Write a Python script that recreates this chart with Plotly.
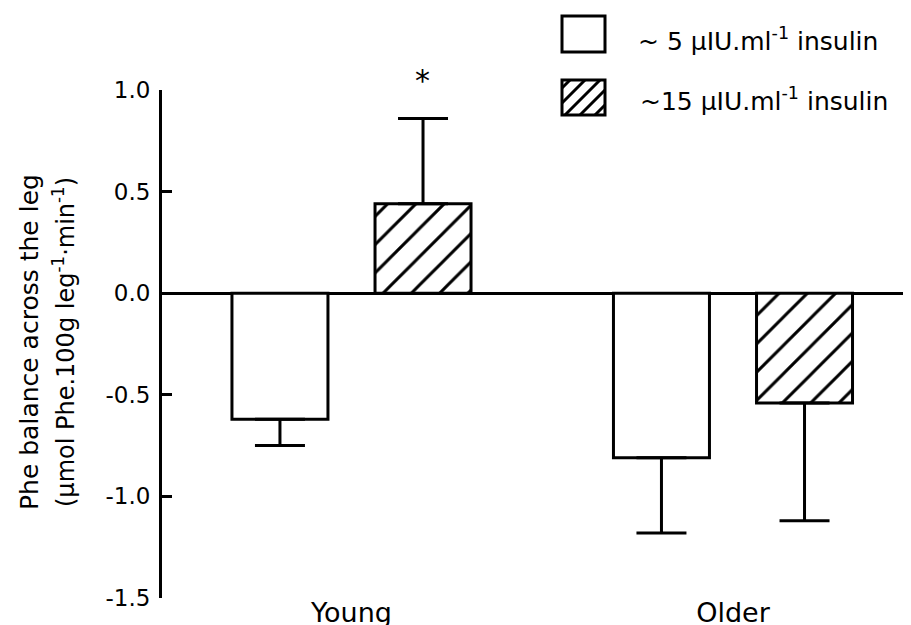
import plotly.graph_objects as go

# ---- data ----
GROUPS = ["Young", "Older"]
LOW_INS_MEAN = [-0.62, -0.81]
LOW_INS_SEM = [0.13, 0.37]
HIGH_INS_MEAN = [0.44, -0.54]
HIGH_INS_SEM = [0.42, 0.58]
SERIES_NAMES = ["~ 5 \u03bcIU.ml<sup>-1</sup> insulin", "~15 \u03bcIU.ml<sup>-1</sup> insulin"]
Y_TICKS = [-1.5, -1.0, -0.5, 0.0, 0.5, 1.0]
Y_TICK_LABELS = ["-1.5", "-1.0", "-0.5", "0.0", "0.5", "1.0"]
SIG_MARK = "*"

FONT = "DejaVu Sans"
PAGE_OFF = 8  # default body margin of the html page
W, H = 911 - PAGE_OFF, 625 - PAGE_OFF
L, R, T = 162 - PAGE_OFF, 0, 90 - PAGE_OFF
B = H - (598 - PAGE_OFF)


def err_parts(means, sems):
    plus = [s if m >= 0 else 0 for m, s in zip(means, sems)]
    minus = [s if m < 0 else 0 for m, s in zip(means, sems)]
    return plus, minus


fig = go.Figure()
for means, sems, pat in [(LOW_INS_MEAN, LOW_INS_SEM, ""), (HIGH_INS_MEAN, HIGH_INS_SEM, "/")]:
    plus, minus = err_parts(means, sems)
    fig.add_trace(go.Bar(
        x=GROUPS, y=means,
        marker=dict(color="white", line=dict(color="black", width=3),
                    pattern=dict(shape=pat, fgcolor="black", bgcolor="white", size=20, solidity=0.15)),
        error_y=dict(type="data", symmetric=False, array=plus, arrayminus=minus,
                     color="black", thickness=3, width=25),
        showlegend=False,
    ))

# significance asterisk above the young high-insulin bar
fig.add_annotation(x=GROUPS[0], y=HIGH_INS_MEAN[0] + HIGH_INS_SEM[0], xref="x", yref="y",
                   text=SIG_MARK, showarrow=False, xshift=71.5, yanchor="bottom", yshift=18,
                   font=dict(family=FONT, size=30, color="black"))

# ---- custom legend (page pixels -> paper) ----
pw, ph = W - L - R, H - T - B


def px(x):
    return (x - PAGE_OFF - L) / pw


def py(y):
    return (H - B - (y - PAGE_OFF)) / ph


boxes = [(562, 16, 605, 52), (562, 80, 605, 115)]
fig.add_shape(type="rect", xref="paper", yref="paper", x0=px(boxes[0][0]), y0=py(boxes[0][1]),
              x1=px(boxes[0][2]), y1=py(boxes[0][3]),
              line=dict(color="black", width=3), fillcolor="white", layer="above")
# hatch lines in second legend box
x0, y0, x1, y1 = boxes[1]
c = x0 + y0 + 8
while c < x1 + y1:
    xa = max(x0, c - y1)
    xb = min(x1, c - y0)
    if xb > xa + 1:
        fig.add_shape(type="line", xref="paper", yref="paper",
                      x0=px(xa), y0=py(c - xa), x1=px(xb), y1=py(c - xb),
                      line=dict(color="black", width=3), layer="above")
    c += 15
fig.add_shape(type="rect", xref="paper", yref="paper", x0=px(x0), y0=py(y0), x1=px(x1), y1=py(y1),
              line=dict(color="black", width=3), layer="above")

for name, yc, xl in [(SERIES_NAMES[0], 40, 636), (SERIES_NAMES[1], 100, 638)]:
    fig.add_annotation(xref="paper", yref="paper", x=px(xl), y=py(yc), xanchor="left", yanchor="middle",
                       text=name, showarrow=False, font=dict(family=FONT, size=25, color="black"))

# y-axis title as two rotated lines
fig.add_annotation(xref="paper", yref="paper", x=px(29), y=py(342), xanchor="center", yanchor="middle",
                   text="Phe balance across the leg", textangle=-90, showarrow=False,
                   font=dict(family=FONT, size=25, color="black"))
fig.add_annotation(xref="paper", yref="paper", x=px(64), y=py(342), xanchor="center", yanchor="middle",
                   text="(\u03bcmol Phe.100g leg<sup>-1</sup>\u00b7min<sup>-1</sup>)", textangle=-90,
                   showarrow=False, font=dict(family=FONT, size=24, color="black"))

fig.update_layout(
    template="none",
    width=W, height=H,
    margin=dict(l=L, r=R, t=T, b=B, pad=0),
    paper_bgcolor="white", plot_bgcolor="white",
    barmode="group", bargap=0.25, bargroupgap=0.329,
    font=dict(family=FONT, color="black"),
)
fig.update_xaxes(range=[-0.4967, 1.4666], showline=False, showgrid=False, zeroline=False,
                 ticks="", tickfont=dict(family=FONT, size=27, color="black"), automargin=False,
                 ticklabelstandoff=-4)
fig.update_yaxes(range=[-1.5, 1.0], tickvals=Y_TICKS, ticktext=Y_TICK_LABELS,
                 showline=True, linewidth=3, linecolor="black", showgrid=False,
                 zeroline=True, zerolinewidth=3, zerolinecolor="black",
                 ticks="inside", ticklen=10, tickwidth=3, tickcolor="black",
                 tickfont=dict(family=FONT, size=23, color="black"), ticklabelstandoff=4,
                 automargin=False)

fig.write_html("out.html")
